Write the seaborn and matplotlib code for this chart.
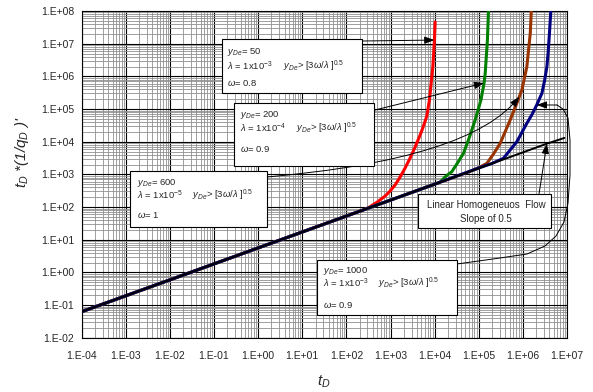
import numpy as np
import pandas as pd
import matplotlib
matplotlib.use("Agg")
import matplotlib.pyplot as plt
import seaborn as sns
from matplotlib.patches import Rectangle
from matplotlib.ticker import LogLocator, FuncFormatter, NullFormatter

# ---- data -------------------------------------------------------------
red_t = [1e-4, 1e-2, 1, 1e2, 300, 500, 755, 980, 1270, 1650, 2140, 2780, 3610, 4690,
         5480, 6650, 7620, 9100, 9890, 10260]
red_y = [0.0625, 0.59, 5.6, 53, 91, 142, 217, 309, 472, 830, 1560, 3160, 6870, 1.6e4,
         2.81e4, 6.1e4, 1.89e5, 1.97e6, 1.29e7, 4.6e7]

green_t = [1e-4, 1e-2, 1, 1e2, 1e4, 1.33e4, 1.82e4, 2.45e4, 3.24e4, 4.5e4, 6.06e4, 8.28e4,
           1.12e5, 1.32e5, 1.40e5, 1.57e5, 1.66e5]
green_y = [0.0625, 0.59, 5.6, 53, 500, 577, 890, 1205, 2150, 4400, 1.3e4, 4.6e4,
           1.89e5, 6.25e5, 1.24e6, 1.29e7, 1e8]

brown_t = [1e-4, 1e-2, 1, 1e2, 1e4, 6.4e4, 9.7e4, 1.53e5, 2.12e5, 3.06e5, 5.15e5, 7.05e5,
           8.3e5, 9.48e5, 1.23e6, 1.47e6, 1.55e6]
brown_y = [0.0625, 0.59, 5.6, 53, 500, 1240, 1560, 2180, 4050, 8900, 4.6e4, 1.33e5,
           2.38e5, 3.82e5, 1.97e6, 2.07e7, 1e8]

blue_t = [1e-4, 1e-2, 1, 1e2, 1e4, 1e5, 1.98e5, 3.63e5, 7.3e5, 1.23e6, 1.63e6, 2.06e6,
          2.7e6, 3.12e6, 3.5e6, 3.75e6, 4.0e6, 4.3e6]
blue_y = [0.0625, 0.59, 5.6, 53, 500, 1570, 2150, 3100, 1.0e4, 3.66e4, 7.0e4, 1.33e5,
          3.03e5, 7.7e5, 1.97e6, 5.6e6, 2.07e7, 1e8]

linear_t = [1e-4, 1e-2, 1, 1e2, 1e4, 1e6, 3.5e6, 8.7e6]
linear_y = [0.0625, 0.59, 5.6, 53, 500, 4700, 8700, 1.3e4]

series_names = ["yDe=50", "yDe=200", "yDe=600", "yDe=1000"]
series_colors = ["#FF0000", "#008000", "#993300", "#000080"]

y_de = ["50", "200", "600", "1000"]
lambda_exp = ["-3", "-4", "-5", "-3"]
omega = ["0.8", "0.9", "1", "0.9"]

# ---- style ------------------------------------------------------------
sns.set_style("white")
plt.rcParams["font.family"] = ["Liberation Sans", "DejaVu Sans"]
plt.rcParams["mathtext.fontset"] = "custom"
plt.rcParams["mathtext.rm"] = "Liberation Sans"
plt.rcParams["mathtext.it"] = "Liberation Sans:italic"
plt.rcParams["mathtext.bf"] = "Liberation Sans:bold"

W, H = 593, 392
fig = plt.figure(figsize=(W / 100, H / 100), dpi=100)
L, R, T, B = 81.7, 567.0, 11.0, 337.7
ax = fig.add_axes([L / W, 1 - B / H, (R - L) / W, (B - T) / H])


def fpos(x, y):
    """figure fraction from a position measured from the top-left corner"""
    return x / W, 1 - y / H


frames = []
for name, t, y in zip(series_names,
                      [red_t, green_t, brown_t, blue_t],
                      [red_y, green_y, brown_y, blue_y]):
    frames.append(pd.DataFrame({"tD": t, "val": y, "series": name}))
df = pd.concat(frames, ignore_index=True)

sns.lineplot(data=df, x="tD", y="val", hue="series", hue_order=series_names,
             palette=series_colors, estimator=None, sort=False, legend=False,
             linewidth=2.2, ax=ax, zorder=3)
sns.lineplot(x=linear_t, y=linear_y, color="black", linewidth=1.4,
             estimator=None, sort=False, ax=ax, zorder=4)

ax.set_xscale("log")
ax.set_yscale("log")
ax.set_xlim(1e-4, 1e7)
ax.set_ylim(1e-2, 1e8)


def efmt(v, pos):
    e = int(round(np.log10(v)))
    return f"1.E{e:+03d}"


for axis in (ax.xaxis, ax.yaxis):
    axis.set_major_locator(LogLocator(base=10, numticks=30))
    axis.set_minor_locator(LogLocator(base=10, subs=np.arange(2, 10), numticks=300))
    axis.set_major_formatter(FuncFormatter(efmt))
    axis.set_minor_formatter(NullFormatter())

ax.set_axisbelow(True)
ax.grid(which="major", color="black", linewidth=0.8)
ax.grid(which="minor", color="#8f8f8f", linewidth=0.6)
ax.tick_params(which="both", length=0)
ax.tick_params(axis="x", pad=9.5, labelsize=7.5)
ax.tick_params(axis="y", pad=5.5, labelsize=7.5)
for s in ax.spines.values():
    s.set_color("black")
    s.set_linewidth(0.8)
ax.set_xlabel("")
ax.set_ylabel("")

fig.text(*fpos(324, 382), r"$t_D$", fontsize=11, ha="center", va="center")
fig.text(*fpos(22, 152), r"$t_D$ *(1/$q_D$ )'", fontsize=11, ha="center",
         va="center", rotation=90, style="italic")

# ---- parameter boxes ----------------------------------------------------
boxes = [(222, 39, 362, 93), (234, 103, 374, 166), (130, 171, 267, 227), (317, 260, 457, 315)]
rows = [(52, 66, 83), (115, 128, 149), (183, 195, 215), (271, 283, 305)]
cols = [(227, 283), (240, 296), (137, 192), (323, 378)]


def draw_box(x0, y0, x1, y1):
    fig.add_artist(Rectangle(fpos(x0, y1), (x1 - x0) / W, (y1 - y0) / H,
                             transform=fig.transFigure, facecolor="white",
                             edgecolor="black", linewidth=0.8, zorder=5))


for i in range(4):
    draw_box(*boxes[i])
    r1, r2, r3 = rows[i]
    c1, c2 = cols[i]
    kw = dict(fontsize=6.8, ha="left", va="center", zorder=6)
    fig.text(*fpos(c1, r1), r"$y_{De}$= " + y_de[i], **kw)
    fig.text(*fpos(c1, r2), r"$\lambda$ = 1x10$^{" + lambda_exp[i] + "}$", **kw)
    fig.text(*fpos(c2, r2), r"$y_{De}$> [3$\omega$/$\lambda$ ]$^{0.5}$", **kw)
    fig.text(*fpos(c1, r3), r"$\omega$= " + omega[i], **kw)

draw_box(418, 194, 551, 228)
fig.text(*fpos(486, 205), "Linear Homogeneuos  Flow", fontsize=7, ha="center",
         va="center", zorder=6)
fig.text(*fpos(486, 219), "Slope of 0.5", fontsize=7, ha="center", va="center", zorder=6)

# ---- connectors ---------------------------------------------------------
arrow_kw = dict(arrowstyle="-|>,head_length=0.6,head_width=0.22", color="black",
                lw=0.7, mutation_scale=10, shrinkA=0, shrinkB=0)


def connect(start, target, style="arc3,rad=0"):
    ax.annotate("", xy=target, xycoords="data", xytext=fpos(*start),
                textcoords="figure fraction", annotation_clip=False,
                arrowprops=dict(connectionstyle=style, **arrow_kw), zorder=4)


connect((363, 41), (red_t[-2], red_y[-2]))
connect((375, 110), (green_t[13], green_y[13]))
connect((267, 177), (brown_t[12], brown_y[12]), "angle3,angleA=5,angleB=52")

route = [(457, 264), (500, 258), (527, 254), (545, 246), (556, 236), (564, 222),
         (568, 203), (570, 175), (570, 140), (568, 118), (563, 109), (557, 105)]
rx = [fpos(*p)[0] for p in route]
ry = [fpos(*p)[1] for p in route]
ax.plot(rx, ry, color="black", lw=0.7, transform=fig.transFigure, clip_on=False, zorder=4)
connect(route[-1], (blue_t[11], blue_y[11]))

connect((539, 194), (linear_t[6], linear_y[6]))

fig.savefig("out.png", dpi=100)
